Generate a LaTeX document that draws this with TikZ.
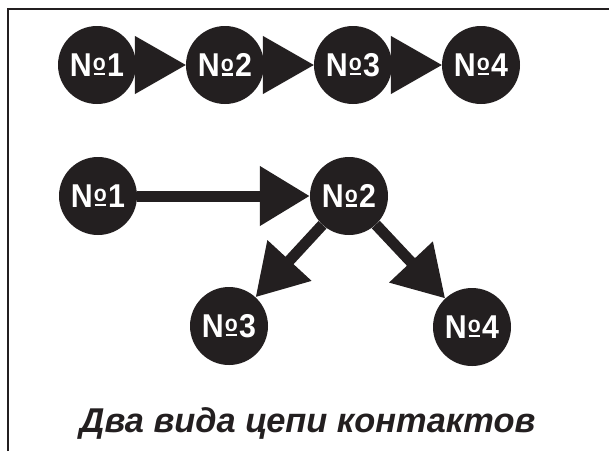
\documentclass[tikz,border=0pt]{standalone}
\usepackage{fontspec}
\setmainfont{Liberation Sans}
\usetikzlibrary{arrows.meta}
\definecolor{ink}{HTML}{231F20}
% numero sign: N with a raised, underlined o
\newcommand\numsign{N\kern1pt\rlap{\kern0.9pt\rule[1pt]{12.4pt}{2.6pt}}%
  \raisebox{5.5pt}{\fontsize{23}{23}\selectfont o}\kern1.5pt}
\newcommand\contactlabel[1]{\scalebox{0.92}[1]{\numsign#1}}
\tikzset{
  contact/.style={circle, fill=ink, minimum size=78pt, inner sep=0pt,
    text=white, font=\fontsize{33}{33}\selectfont\bfseries},
  headonly/.style={draw=ink, fill=ink, line width=1pt,
    -{Triangle[length=51pt,width=58pt]}},
  link/.style={draw=ink, line width=11pt,
    -{Triangle[length=50pt,width=57pt]}},
  frame/.style={draw=ink, line width=1.5pt}
}
\begin{document}
\begin{tikzpicture}[x=1pt,y=-1pt]
  \useasboundingbox (0,0) rectangle (609,451);
  % open frame: top and left edges only
  \coordinate (fl) at (8,451);
  \coordinate (fc) at (8,9);
  \coordinate (fr) at (609,9);
  \draw[frame] (fl) -- (fc) -- (fr);

  % series chain
  \node[contact] (a1) at (97,65) {\contactlabel{1}};
  \node[contact] (a2) at (225,65) {\contactlabel{2}};
  \node[contact] (a3) at (353,65) {\contactlabel{3}};
  \node[contact] (a4) at (481,65) {\contactlabel{4}};
  \draw[headonly] (a1.east) -- (a2.west);
  \draw[headonly] (a2.east) -- (a3.west);
  \draw[headonly] (a3.east) -- (a4.west);

  % branching chain
  \node[contact] (b1) at (98,196) {\contactlabel{1}};
  \node[contact] (b2) at (349,196) {\contactlabel{2}};
  \node[contact] (b3) at (229,326) {\contactlabel{3}};
  \node[contact] (b4) at (472,327) {\contactlabel{4}};
  \draw[link] (b1) -- (b2);
  \draw[link] (b2) -- (b3);
  \draw[link] (b2) -- (b4);

  \node[anchor=base, text=ink, font=\fontsize{34.4}{34.4}\selectfont\bfseries\itshape]
    (title) at (307.5,432) {Два вида цепи контактов};
\end{tikzpicture}
\end{document}
